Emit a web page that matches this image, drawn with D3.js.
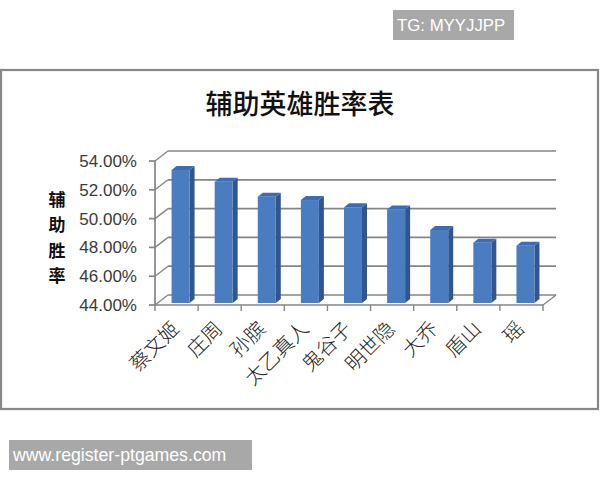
<!DOCTYPE html>
<html><head><meta charset="utf-8">
<script src="https://cdn.jsdelivr.net/npm/d3@7"></script>
<style>body{margin:0;background:#fff}svg{display:block}</style>
</head><body>
<svg id="c" width="600" height="480"></svg>
<script>
const categories = ["蔡文姬","庄周","孙膑","太乙真人","鬼谷子","明世隐","大乔","盾山","瑶"];
const winRates = [0.5324, 0.5242, 0.5138, 0.5115, 0.5065, 0.5050, 0.4907, 0.4819, 0.4798];
const yTicks = [0.44, 0.46, 0.48, 0.50, 0.52, 0.54];
const titleText = "辅助英雄胜率表";
const yTitle = ["辅","助","胜","率"];

const svg = d3.select("#c");
const x = d3.scaleBand().domain(categories).range([155, 543]).padding(0);
const y = d3.scaleLinear().domain([0.44, 0.54]).range([305, 161]);
const fmt = d3.format(".2%");
const DX = 13, DY = -10;      // wall depth
const SX = 4, SY = -2;        // bar plane shift
const BDX = 5, BDY = -4;      // bar depth
const BW = 18;
const grid = "#858585";

// watermark top
svg.append("rect").attr("x",393).attr("y",10).attr("width",121).attr("height",30).attr("fill","#a8a8a8");
svg.append("text").attr("x",397).attr("y",31).attr("fill","#fff").attr("font-family","Liberation Sans, Arial, sans-serif").attr("font-size",16.8).text("TG: MYYJJPP");

// frame
svg.append("rect").attr("x",1).attr("y",70).attr("width",597).attr("height",339).attr("fill","#fff").attr("stroke","#878787").attr("stroke-width",2.2);

// title
svg.append("text").attr("x",300).attr("y",114).attr("text-anchor","middle")
  .attr("font-family","Noto Sans CJK SC, sans-serif").attr("font-size",27).attr("font-weight",500).attr("fill","#111").text(titleText);

// back wall gridlines + side wall diagonals
const [x0, x1] = x.range();
yTicks.forEach(t => {
  svg.append("line").attr("x1",x0+DX).attr("x2",x1+DX).attr("y1",y(t)+DY).attr("y2",y(t)+DY).attr("stroke",grid).attr("stroke-width",1.7);
  svg.append("line").attr("x1",x0).attr("x2",x0+DX).attr("y1",y(t)).attr("y2",y(t)+DY).attr("stroke",grid).attr("stroke-width",1.4);
});
// floor right edge
svg.append("line").attr("x1",x1).attr("x2",x1+DX).attr("y1",y(0.44)).attr("y2",y(0.44)+DY).attr("stroke",grid).attr("stroke-width",1.4);

// bars
const g = svg.append("g");
categories.forEach((c, i) => {
  const v = winRates[i];
  const xl = x(c) + (x.bandwidth() - BW) / 2 + SX;
  const yt = y(v) + SY, yb = y(0.44) + SY;
  const xr = xl + BW;
  g.append("polygon").attr("points", [[xr,yt],[xr+BDX,yt+BDY],[xr+BDX,yb+BDY],[xr,yb]].join(" ")).attr("fill","#2f5690");
  g.append("polygon").attr("points", [[xl,yt],[xr,yt],[xr+BDX,yt+BDY],[xl+BDX,yt+BDY]].join(" ")).attr("fill","#3e6cad");
  g.append("rect").attr("x",xl).attr("y",yt).attr("width",BW).attr("height",yb-yt).attr("fill","#4a7dc0");
});

// y axis
svg.append("line").attr("x1",x0).attr("x2",x0).attr("y1",y(0.54)).attr("y2",y(0.44)).attr("stroke",grid).attr("stroke-width",1.7);
yTicks.forEach(t => {
  svg.append("line").attr("x1",x0-6).attr("x2",x0).attr("y1",y(t)).attr("y2",y(t)).attr("stroke",grid).attr("stroke-width",1.7);
  svg.append("text").attr("x",137).attr("y",y(t)+6).attr("text-anchor","end")
    .attr("font-family","Liberation Sans, Arial, sans-serif").attr("font-size",17).attr("fill","#3a3a3a").text(fmt(t));
});
// x axis
svg.append("line").attr("x1",x0).attr("x2",x1).attr("y1",y(0.44)).attr("y2",y(0.44)).attr("stroke",grid).attr("stroke-width",1.7);
categories.concat([null]).forEach((c, i) => {
  const xx = c === null ? x1 : x(c);
  svg.append("line").attr("x1",xx).attr("x2",xx).attr("y1",y(0.44)).attr("y2",y(0.44)+6).attr("stroke",grid).attr("stroke-width",1.4);
});
categories.forEach(c => {
  const cx = x(c) + x.bandwidth()/2 + 4, cy = 330;
  svg.append("text").attr("transform",`translate(${cx},${cy}) rotate(-45)`).attr("text-anchor","end")
    .attr("font-family","Noto Sans CJK SC, sans-serif").attr("font-size",20).attr("font-weight",300).attr("fill","#222").text(c);
});

// y title
yTitle.forEach((ch, i) => {
  svg.append("text").attr("x",57).attr("y",206 + i*25.3).attr("text-anchor","middle")
    .attr("font-family","Noto Sans CJK SC, sans-serif").attr("font-size",17).attr("font-weight",700).attr("fill","#111").text(ch);
});

// watermark bottom
svg.append("rect").attr("x",9).attr("y",440).attr("width",243).attr("height",30).attr("fill","#a8a8a8");
svg.append("text").attr("x",13).attr("y",461).attr("fill","#fff").attr("font-family","Liberation Sans, Arial, sans-serif").attr("font-size",17.7).text("www.register-ptgames.com");
</script>
</body></html>
